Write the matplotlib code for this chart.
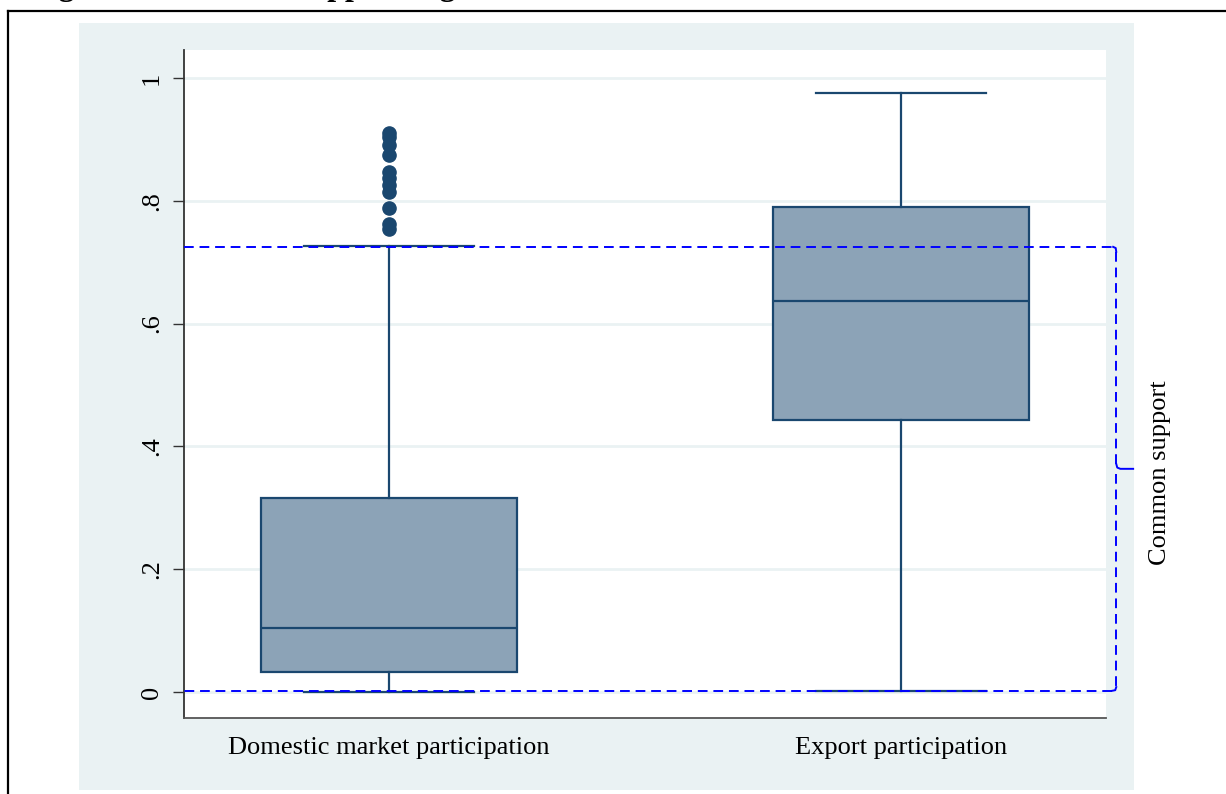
import matplotlib
matplotlib.use("Agg")
import matplotlib.pyplot as plt
from matplotlib.lines import Line2D
from matplotlib.patches import Rectangle

# ---- data ----
categories = ["Domestic market participation", "Export participation"]
whisker_low = [0.0, 0.001]
q1_values = [0.033, 0.443]
medians = [0.105, 0.637]
q3_values = [0.316, 0.790]
whisker_high = [0.726, 0.975]
domestic_outliers = [0.754, 0.762, 0.788, 0.814, 0.826, 0.837, 0.847,
                     0.875, 0.891, 0.904, 0.910]
export_outliers = []
common_support = [0.002, 0.725]
y_ticks = [0, 0.2, 0.4, 0.6, 0.8, 1.0]
y_tick_labels = ["0", ".2", ".4", ".6", ".8", "1"]

NAVY = "#1a476f"
FILL = "#8ca3b7"
BG = "#eaf2f3"
SERIF = ["Liberation Serif", "DejaVu Serif"]

fig = plt.figure(figsize=(12.26, 7.94), dpi=100)
fig.patch.set_facecolor("white")

# graph region background
fig.patches.append(Rectangle((79 / 1226, 4 / 794), (1134 - 79) / 1226, (790 - 23) / 794,
                             transform=fig.transFigure, facecolor=BG, edgecolor="none", zorder=0))
# outer black frame (table cell border)
fig.lines.append(Line2D([8 / 1226, 8 / 1226], [0, 1 - 11 / 794], transform=fig.transFigure,
                        color="black", lw=1.6))
fig.lines.append(Line2D([8 / 1226, 1.0], [1 - 11 / 794, 1 - 11 / 794], transform=fig.transFigure,
                        color="black", lw=1.6))
# cropped title (only descenders visible, as in the reference)
fig.text(30 / 1226, 1 + 5 / 794, "Figure 1: Common support region", fontsize=23,
         fontweight="bold", family=SERIF, ha="left", va="baseline")

ax = fig.add_axes([184 / 1226, 76 / 794, (1106 - 184) / 1226, (718 - 50) / 794])
ax.set_facecolor("white")
ax.set_zorder(1)

stats = []
fliers_all = [domestic_outliers, export_outliers]
for i, name in enumerate(categories):
    stats.append(dict(label=name, whislo=whisker_low[i], q1=q1_values[i], med=medians[i],
                      q3=q3_values[i], whishi=whisker_high[i], fliers=fliers_all[i]))

ax.bxp(stats, positions=[1, 2], widths=0.5, patch_artist=True, showfliers=True,
       boxprops=dict(facecolor=FILL, edgecolor=NAVY, linewidth=1.6),
       medianprops=dict(color=NAVY, linewidth=1.6),
       whiskerprops=dict(color=NAVY, linewidth=1.6),
       capprops=dict(color=NAVY, linewidth=1.6),
       capwidths=0.333,
       flierprops=dict(marker="o", markerfacecolor=NAVY, markeredgecolor=NAVY,
                       markersize=9.5, linestyle="none"))

ax.set_xlim(0.6, 2.4)
ax.set_ylim(-0.0423, 1.0456)
ax.set_yticks(y_ticks)
ax.set_yticklabels(y_tick_labels, rotation=90, va="center", family=SERIF, fontsize=19)
ax.set_xticks([1, 2])
ax.set_xticklabels(categories, family=SERIF, fontsize=19)
ax.tick_params(axis="y", direction="out", length=8, width=1.0, color="#333333", pad=7)
ax.tick_params(axis="x", length=0, pad=14)
ax.yaxis.grid(True, color=BG, linewidth=2)
ax.set_axisbelow(True)
for s in ["top", "right"]:
    ax.spines[s].set_visible(False)
ax.spines["left"].set_color("#333333")
ax.spines["bottom"].set_color("#555555")
ax.spines["left"].set_linewidth(1.3)
ax.spines["bottom"].set_linewidth(1.3)

# common support bracket (dashed blue)
lo, hi = common_support
mid = (lo + hi) / 2
xr = 2.42
dash = dict(color="#0000ff", lw=1.4, linestyle=(0, (5, 3)), clip_on=False, zorder=5)
solid = dict(color="#0000ff", lw=1.4, clip_on=False, zorder=5)
ax.plot([0.6, xr - 0.006], [hi, hi], **dash)
ax.plot([xr - 0.006, xr - 0.001, xr], [hi, hi - 0.002, hi - 0.008], **solid)
ax.plot([xr, xr], [hi - 0.008, mid + 0.008], **dash)
ax.plot([xr, xr + 0.002, xr + 0.008, xr + 0.033], [mid + 0.008, mid + 0.002, mid, mid], **solid)
ax.plot([xr, xr], [mid - 0.008, lo + 0.006], **dash)
ax.plot([xr, xr - 0.002, xr - 0.008], [lo + 0.006, lo + 0.001, lo], **solid)
ax.plot([xr - 0.008, 0.6], [lo, lo], **dash)
ax.text(1160 / 1226, (794 - 473) / 794, "Common support", transform=fig.transFigure,
        rotation=90, ha="center", va="center", fontsize=19, family=SERIF)

fig.savefig("out.png", dpi=100, facecolor="white")
